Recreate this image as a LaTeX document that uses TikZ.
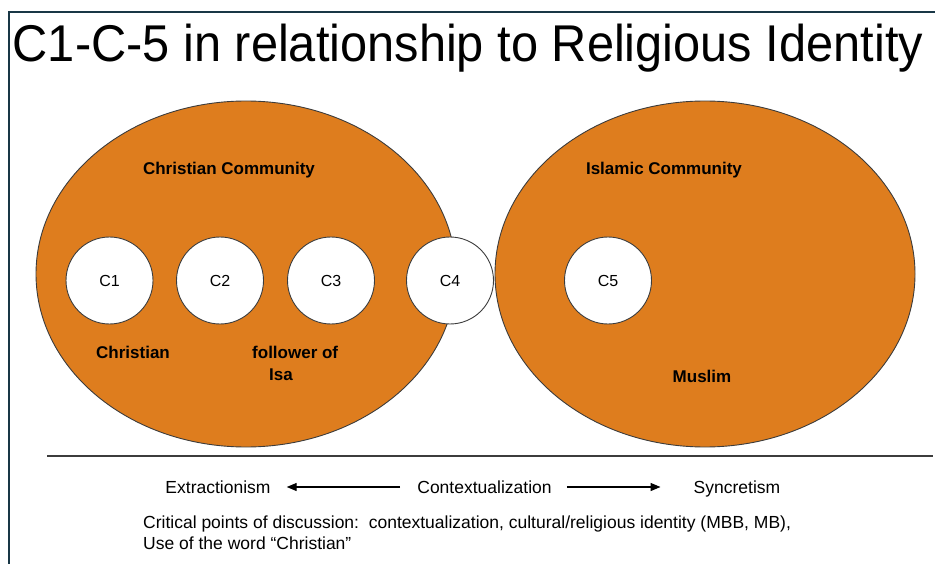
\documentclass[tikz,border=0pt]{standalone}
\usepackage{fontspec}
\setmainfont{Liberation Sans}
\usetikzlibrary{arrows.meta}
\definecolor{orng}{RGB}{222,125,30}
\definecolor{edge}{RGB}{60,60,60}
\definecolor{framec}{RGB}{25,55,70}
\tikzset{
  community/.style={draw=edge, line width=0.9pt, fill=orng},
  cnode/.style={circle, draw=edge, line width=0.9pt, fill=white, minimum size=87pt, inner sep=0pt, font=\fontsize{16}{18}\selectfont},
  blabel/.style={inner sep=0pt, font=\bfseries\fontsize{17}{20}\selectfont},
  btext/.style={inner sep=0pt, font=\fontsize{17.5}{21}\selectfont},
  spec/.style={-{Triangle[length=10pt,width=8pt]}, line width=1.3pt, black}
}
\begin{document}
\begin{tikzpicture}[x=1pt,y=-1pt]
\useasboundingbox (0,0) rectangle (935,564);
% frame
\draw[framec, line width=1.6pt] (9,564) -- (9,12) -- (935,12);
% title
\node[anchor=base west, inner sep=0pt] (title) at (12.5,62) {\scalebox{0.943}[1]{\fontsize{51.7}{60}\selectfont C1-C-5 in relationship to Religious Identity}};
% communities
\path[community] (246,274) ellipse [x radius=210, y radius=173];
\path[community] (705,274) ellipse [x radius=210, y radius=173];
% circles
\node[cnode] (c1) at (109.5,280.5) {C1};
\node[cnode] (c2) at (220,280.5) {C2};
\node[cnode] (c3) at (331,280.5) {C3};
\node[cnode] (c4) at (450,280.5) {C4};
\node[cnode] (c5) at (608,280.5) {C5};
% labels
\node[blabel] (cc) at (229,170) {Christian Community};
\node[blabel] (ic) at (664,170) {Islamic Community};
\node[blabel] (chr) at (133,352) {Christian};
\node[blabel, anchor=west] (fol) at (252,352) {follower of};
\node[blabel, anchor=west] (isa) at (269,375) {Isa};
\node[blabel] (mus) at (702,376) {Muslim};
% rule
\draw[edge, line width=1.2pt] (47,456) -- (933,456);
% spectrum
\node[btext, anchor=base] (ext) at (218,493) {Extractionism};
\node[btext, anchor=base] (ctx) at (484.5,493) {Contextualization};
\node[btext, anchor=base] (syn) at (737,493) {Syncretism};
\draw[spec] ([xshift=-17pt,yshift=6pt]ctx.base west) -- ([xshift=16pt,yshift=6pt]ext.base east);
\draw[spec] ([xshift=15pt,yshift=6pt]ctx.base east) -- ([xshift=-33pt,yshift=6pt]syn.base west);
% discussion
\node[btext, anchor=base west] (disc1) at (143,528) {Critical points of discussion:\ \ contextualization, cultural/religious identity (MBB, MB),};
\node[btext, anchor=base west] (disc2) at (143,549) {Use of the word “Christian”};
\end{tikzpicture}
\end{document}
